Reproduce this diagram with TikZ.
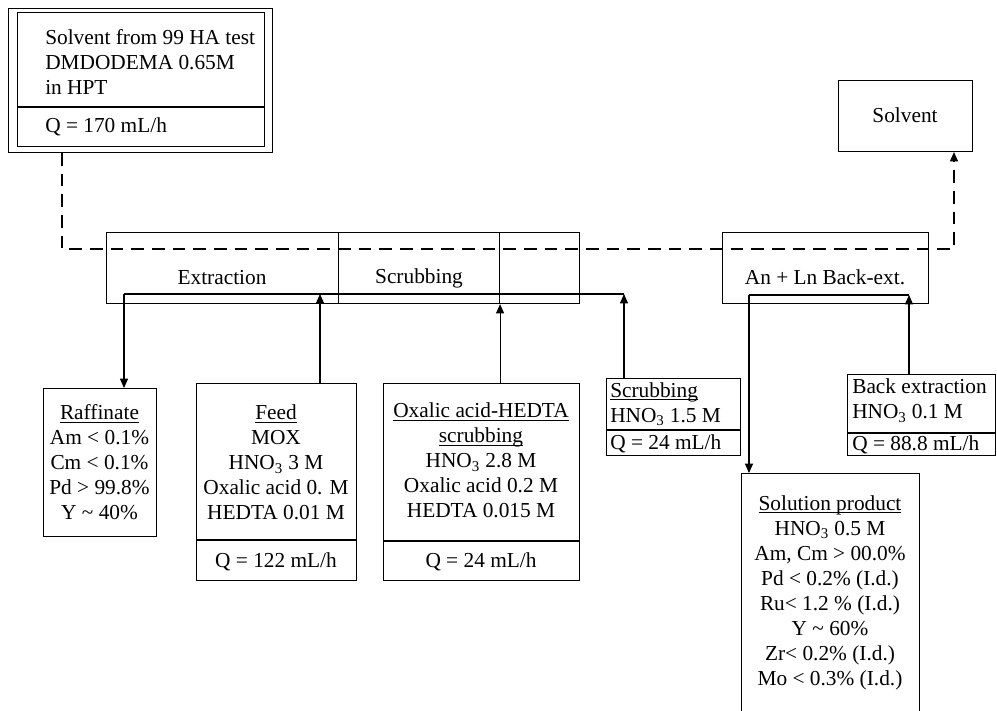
\documentclass[tikz,border=0pt]{standalone}
\usepackage{fontspec}
\setmainfont{Liberation Serif}
\usetikzlibrary{arrows.meta}
\newcommand\bx[5]{\node[frame, minimum width={(#4-#2)*0.75pt}, minimum height={(#5-#3)*0.75pt}] (#1) at (#2,#3) {};}
\newsavebox\ulbox
\newcommand\ulx[1]{\leavevmode\sbox\ulbox{#1}\rlap{\rule[-2.2pt]{\wd\ulbox}{0.6pt}}\usebox\ulbox}
\begin{document}
\begin{tikzpicture}[x=0.75pt,y=-0.75pt,
  every node/.style={font=\fontsize{16}{18.75}\selectfont, inner sep=0pt},
  frame/.style={draw, line width=0.8pt, inner sep=0pt, anchor=north west},
  txt/.style={align=center},
  ltxt/.style={align=left, anchor=west},
  flow/.style={line width=0.8pt},
  tip/.style={-{Triangle[length=7pt,width=6pt]}},
  dsh/.style={line width=0.8pt, dash pattern=on 9.5pt off 6pt}]
\clip (0,0) rectangle (997,711);
% source solvent box
\bx{srcout}{8}{8}{272}{152}
\bx{srcin}{17}{12}{264}{146}
\draw[flow] (srcin.west |- 0,107) -- (srcin.east |- 0,107);
\node[ltxt] (srctxt) at (45,62) {Solvent from 99 HA test\\DMDODEMA 0.65M\\in HPT};
\node[ltxt] (srcq) at (45,127) {Q = 170 mL/h};
% solvent out
\bx{solv}{838}{80}{972}{151}
\node (solvtxt) at (905,115) {Solvent};
% contactor blocks
\bx{ext}{106}{232}{338}{303}
\bx{scr}{338}{232}{499}{303}
\bx{blk}{499}{232}{579}{303}
\node (exttxt) at (222,278) {Extraction};
\node (scrtxt) at (419,278) {Scrubbing};
\bx{back}{722}{232}{928}{303}
\node (backtxt) at (825,277) {An + Ln Back-ext.};
% raffinate
\bx{raff}{43}{388}{156}{536}
\node[txt] (rafftxt) at (99.5,462.5) {\ulx{Raffinate}\\Am < 0.1\%\\Cm < 0.1\%\\Pd > 99.8\%\\Y \textasciitilde{} 40\%};
% feed
\bx{feed}{196}{383}{356}{580}
\draw[flow] (feed.west |- 0,540) -- (feed.east |- 0,540);
\node[txt] (feedtxt) at (276,462.5) {\ulx{Feed}\\MOX\\HNO\textsubscript{3} 3 M\\Oxalic acid 0. M\\HEDTA 0.01 M};
\node (feedq) at (276,562) {Q = 122 mL/h};
% oxalic scrub
\bx{oxa}{383}{383}{579}{580}
\draw[flow] (oxa.west |- 0,541) -- (oxa.east |- 0,541);
\node[txt] (oxatxt) at (481,460.5) {\ulx{Oxalic acid-HEDTA}\\\ulx{scrubbing}\\HNO\textsubscript{3} 2.8 M\\Oxalic acid 0.2 M\\HEDTA 0.015 M};
\node (oxaq) at (481,562) {Q = 24 mL/h};
% small scrubbing
\bx{scb}{606}{378}{740}{455}
\draw[flow] (scb.west |- 0,430) -- (scb.east |- 0,430);
\node[ltxt] (scbtxt) at (610,404) {\ulx{Scrubbing}\\HNO\textsubscript{3} 1.5 M};
\node[ltxt] (scbq) at (610,444) {Q = 24 mL/h};
% back extraction
\bx{bex}{847}{374}{995}{455}
\draw[flow] (bex.west |- 0,433) -- (bex.east |- 0,433);
\node[ltxt] (bextxt) at (852,400.5) {Back extraction\\HNO\textsubscript{3} 0.1 M};
\node[ltxt] (bexq) at (852,445) {Q = 88.8 mL/h};
% solution product
\bx{sol}{741}{473}{919}{720}
\node[txt] (soltxt) at (830,592.5) {\ulx{Solution product}\\HNO\textsubscript{3} 0.5 M\\Am, Cm > 00.0\%\\Pd < 0.2\% (I.d.)\\Ru< 1.2 \% (I.d.)\\Y \textasciitilde{} 60\%\\Zr< 0.2\% (I.d.)\\Mo < 0.3\% (I.d.)};
% aqueous connectors
\coordinate (aq) at (124,294);
\coordinate (fe) at (320,294);
\coordinate (se) at (624,294);
\draw[flow] (aq) -- (se);
\draw[flow,tip] (aq) -- (raff.north -| aq);
\draw[flow,tip] (feed.north -| fe) -- (fe);
\draw[flow,tip] (oxa.north -| scr.south east) -- (scr.south east);
\draw[flow,tip] (scb.north -| se) -- (se);
\coordinate (bo) at (749,295);
\coordinate (bi) at (909,295);
\draw[flow] (bo) -- (bi);
\draw[flow,tip] (bex.north -| bi) -- (bi);
\draw[flow,tip] (bo) -- (sol.north -| bo);
% solvent dashed path
\coordinate (d1) at (62,249);
\coordinate (d2) at (954,249);
\draw[dsh,tip] (srcout.south -| d1) -- (d1) -- (d2) -- (solv.south -| d2);
\end{tikzpicture}
\end{document}
